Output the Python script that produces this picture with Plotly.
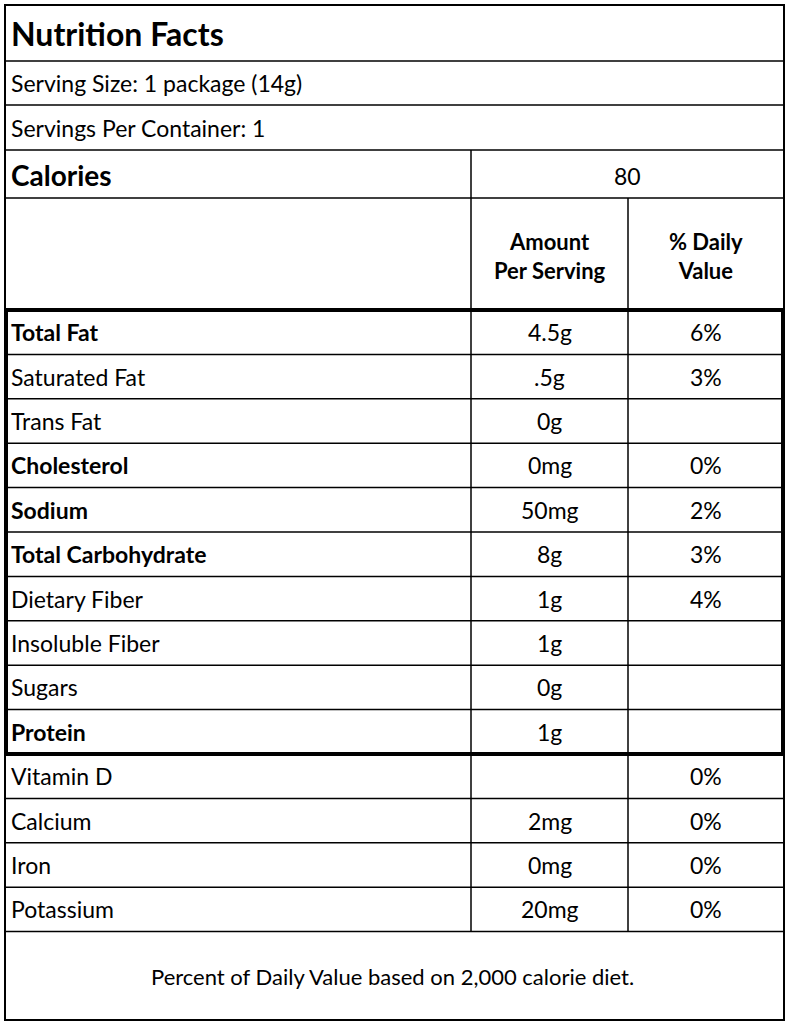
import plotly.graph_objects as go

title = "Nutrition Facts"
serving_size = "Serving Size: 1 package (14g)"
servings = "Servings Per Container: 1"
calories = "80"
nutrients = ["Total Fat", "Saturated Fat", "Trans Fat", "Cholesterol", "Sodium",
             "Total Carbohydrate", "Dietary Fiber", "Insoluble Fiber", "Sugars", "Protein",
             "Vitamin D", "Calcium", "Iron", "Potassium"]
amounts = ["4.5g", ".5g", "0g", "0mg", "50mg", "8g", "1g", "1g", "0g", "1g", "", "2mg", "0mg", "20mg"]
daily = ["6%", "3%", "", "0%", "2%", "3%", "4%", "", "", "", "0%", "0%", "0%", "0%"]
bold = [True, False, False, True, True, True, False, False, False, True, False, False, False, False]
footnote = "Percent of Daily Value based on 2,000 calorie diet."

W, H = 789, 1024
L, R = 5, 784
C1, C2 = 471, 628
FONT = "Lato"

fig = go.Figure()
shapes = []
ann = []

def hline(y, x0=L, x1=R, w=1.5):
    shapes.append(dict(type="line", x0=x0, x1=x1, y0=y, y1=y, line=dict(color="black", width=w)))

def vline(x, y0, y1, w=1.5):
    shapes.append(dict(type="line", x0=x, x1=x, y0=y0, y1=y1, line=dict(color="black", width=w)))

def text(x, y, s, size=24, b=False, anchor="left"):
    if b:
        s = "<b>" + s + "</b>"
    ann.append(dict(x=x, y=y, text=s, showarrow=False, xanchor=anchor, yanchor="middle",
                    font=dict(family=FONT, size=size, color="black")))

# outer border
shapes.append(dict(type="rect", x0=L, x1=R, y0=5, y1=1020, line=dict(color="black", width=2)))

# top section
tops = [5, 61, 105, 150, 198, 310]
for y in tops[1:]:
    hline(y)
text(9, 33, title, size=32, b=True)
text(9, 83, serving_size, size=23)
text(9, 128, servings, size=23)
text(9, 175, "Calories", size=28, b=True)
vline(C1, 150, 310)
text((C1 + R) / 2, 176, calories, size=23, anchor="center")
vline(C2, 198, 310)
text((C1 + C2) / 2, 256, "<b>Amount<br>Per Serving</b>", size=22, anchor="center")
text((C2 + R) / 2, 256, "<b>% Daily<br>Value</b>", size=22, anchor="center")

# nutrient rows
y0, rh = 310, 44.4
for i, (n, a, d, b) in enumerate(zip(nutrients, amounts, daily, bold)):
    ya, yb = y0 + i * rh, y0 + (i + 1) * rh
    hline(yb)
    vline(C1, ya, yb)
    vline(C2, ya, yb)
    yc = (ya + yb) / 2
    text(9, yc, n, size=23, b=b)
    text((C1 + C2) / 2, yc, a, size=23, anchor="center")
    text((C2 + R) / 2, yc, d, size=23, anchor="center")

# thick box around main nutrients
box_bottom = y0 + 10 * rh
shapes.append(dict(type="rect", x0=L + 1, x1=R - 1, y0=y0, y1=box_bottom,
                   line=dict(color="black", width=4)))

text(W / 2 - 2, 976, footnote, size=22, anchor="center")

fig.update_layout(
    width=W, height=H, margin=dict(l=0, r=0, t=0, b=0),
    paper_bgcolor="white", plot_bgcolor="white",
    xaxis=dict(range=[0, W], visible=False, fixedrange=True),
    yaxis=dict(range=[H, 0], visible=False, fixedrange=True),
    shapes=shapes, annotations=ann, showlegend=False,
)
fig.write_html("out.html", config={"displayModeBar": False},
               post_script="document.body.style.margin='0';document.body.style.overflow='hidden';")
